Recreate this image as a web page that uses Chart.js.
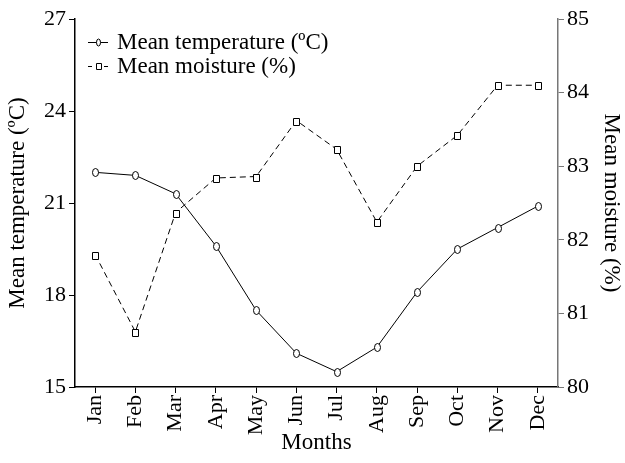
<!DOCTYPE html>
<html>
<head>
<meta charset="utf-8">
<script src="https://cdn.jsdelivr.net/npm/chart.js@4"></script>
<style>
  body { margin: 0; background: #fff; }
  #chart { display: block; }
</style>
</head>
<body>
<canvas id="chart" width="625" height="463"></canvas>
<script>
// data
const months = ['Jan', 'Feb', 'Mar', 'Apr', 'May', 'Jun', 'Jul', 'Aug', 'Sep', 'Oct', 'Nov', 'Dec'];
const meanTemperature = [22.0, 21.9, 21.3, 19.6, 17.5, 16.1, 15.5, 16.3, 18.1, 19.5, 20.2, 20.9];
const meanMoisture = [81.8, 80.75, 82.37, 82.84, 82.86, 83.62, 83.23, 82.24, 83.0, 83.42, 84.1, 84.1];
const tempTicks = [15, 18, 21, 24, 27];
const moistTicks = [80, 81, 82, 83, 84, 85];

const serif = 'Liberation Serif';

// open marker: tall ellipse or square, white inside
function drawMark(ctx, kind, x, y, w, h) {
  x = Math.round(x) + 0.5;
  y = Math.round(y) + 0.5;
  ctx.save();
  ctx.setLineDash([]);
  ctx.fillStyle = '#fff';
  ctx.strokeStyle = '#000';
  ctx.lineWidth = 1;
  ctx.beginPath();
  if (kind === 'ellipse') {
    ctx.ellipse(x, y, w / 2, h / 2, 0, 0, Math.PI * 2);
  } else {
    ctx.rect(x - Math.floor(w / 2), y - Math.floor(h / 2), w, h);
  }
  ctx.fill();
  ctx.stroke();
  ctx.restore();
}

// markers on top of the lines, at the points the library placed
const openMarkers = {
  id: 'openMarkers',
  afterDatasetsDraw(chart) {
    chart.data.datasets.forEach((ds, i) => {
      const meta = chart.getDatasetMeta(i);
      meta.data.forEach(pt => {
        if (i === 0) drawMark(chart.ctx, 'ellipse', pt.x, pt.y, 6, 8);
        else drawMark(chart.ctx, 'rect', pt.x, pt.y, 6, 7);
      });
    });
  }
};

// legend drawn by hand: line sample + marker + text
const lineLegend = {
  id: 'lineLegend',
  afterDraw(chart) {
    const ctx = chart.ctx;
    const x0 = 88, x1 = 108, ys = [42, 66];
    chart.data.datasets.forEach((ds, i) => {
      const y = ys[i];
      ctx.save();
      ctx.strokeStyle = '#000';
      ctx.lineWidth = 1;
      ctx.setLineDash(ds.borderDash ? [4, 4] : []);
      ctx.beginPath();
      ctx.moveTo(x0, y + 0.5);
      ctx.lineTo(x1, y + 0.5);
      ctx.stroke();
      if (i === 0) drawMark(ctx, 'ellipse', 98, y, 4, 7);
      else drawMark(ctx, 'rect', 98, y, 5, 6);
      ctx.fillStyle = '#000';
      ctx.font = '23px "' + serif + '"';
      ctx.textBaseline = 'middle';
      ctx.fillText(ds.label, 117, y + 1);
      ctx.restore();
    });
  }
};

new Chart(document.getElementById('chart'), {
  type: 'line',
  data: {
    labels: months,
    datasets: [{
      label: 'Mean temperature (ºC)',
      data: meanTemperature,
      yAxisID: 'yT',
      borderColor: '#000',
      borderWidth: 1,
      pointRadius: 0,
      tension: 0
    }, {
      label: 'Mean moisture (%)',
      data: meanMoisture,
      yAxisID: 'yM',
      borderColor: '#000',
      borderWidth: 1,
      borderDash: [6, 4],
      pointRadius: 0,
      tension: 0
    }]
  },
  options: {
    responsive: false,
    animation: false,
    layout: { padding: { top: 19, left: 0, right: 0, bottom: 0 } },
    plugins: {
      legend: { display: false },
      tooltip: { enabled: false }
    },
    scales: {
      x: {
        type: 'category',
        offset: true,
        border: { color: '#000', width: 1.5 },
        grid: { offset: false, drawOnChartArea: false, color: '#000', tickLength: 6 },
        ticks: {
          color: '#000',
          font: { family: serif, size: 22 },
          maxRotation: 90,
          minRotation: 90,
          padding: 2
        },
        title: {
          display: true,
          text: 'Months',
          color: '#000',
          font: { family: serif, size: 23 },
          padding: { top: 0, bottom: 6 }
        },
        afterFit(scale) { scale.height = 76; }
      },
      yT: {
        position: 'left',
        min: 15,
        max: 27,
        afterBuildTicks(scale) { scale.ticks = tempTicks.map(v => ({ value: v })); },
        border: { color: '#000', width: 1.5 },
        grid: { drawOnChartArea: false, color: '#000', tickLength: 6 },
        ticks: {
          color: '#000',
          font: { family: serif, size: 22 },
          padding: 3
        },
        title: {
          display: true,
          text: 'Mean temperature (ºC)',
          color: '#000',
          font: { family: serif, size: 23 },
          padding: { top: 4, bottom: 0 }
        },
        afterFit(scale) { scale.width = 75; }
      },
      yM: {
        position: 'right',
        min: 80,
        max: 85,
        afterBuildTicks(scale) { scale.ticks = moistTicks.map(v => ({ value: v })); },
        border: { color: '#777', width: 1.5 },
        grid: { drawOnChartArea: false, color: '#777', tickLength: 6 },
        ticks: {
          color: '#000',
          font: { family: serif, size: 22 },
          padding: 3
        },
        title: {
          display: true,
          text: 'Mean moisture (%)',
          color: '#000',
          font: { family: serif, size: 23 },
          padding: { top: 0, bottom: 0 }
        },
        afterFit(scale) { scale.width = 67; }
      }
    }
  },
  plugins: [openMarkers, lineLegend]
});
</script>
</body>
</html>
